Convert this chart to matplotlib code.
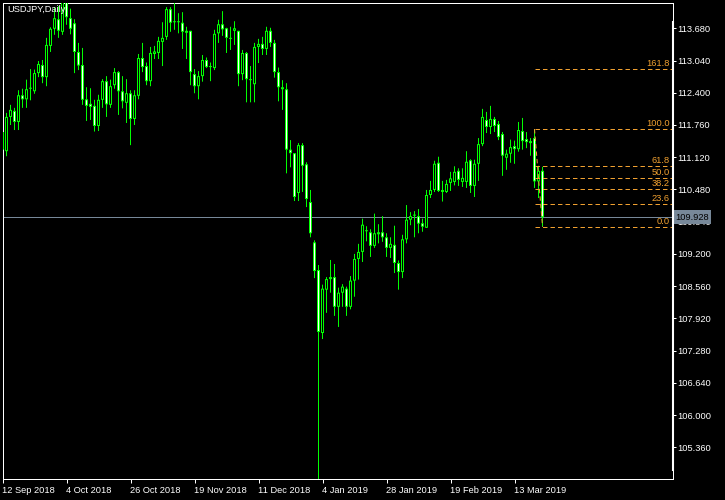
import matplotlib
matplotlib.use('Agg')
import matplotlib.pyplot as plt
import matplotlib.transforms as mtransforms
from matplotlib.lines import Line2D
import numpy as np

plt.rcParams['font.family'] = ['Liberation Sans', 'DejaVu Sans']
plt.rcParams['lines.scale_dashes'] = False

# USDJPY daily bars, 12 Sep 2018 .. 22 Mar 2019
opens = [111.62, 111.24, 111.92, 112.04, 111.82, 112.35, 112.27, 112.48, 112.43, 112.79,
         112.95, 112.71, 113.33, 113.67, 113.86, 113.61, 114.45, 113.88, 113.78, 113.21,
         112.95, 112.27, 112.18, 112.14, 111.74, 112.26, 112.63, 112.16, 112.55, 112.81,
         112.43, 112.20, 112.39, 111.88, 112.34, 113.09, 112.93, 112.63, 113.17, 113.19,
         113.41, 113.51, 114.06, 113.80, 113.82, 113.79, 113.63, 113.63, 112.77, 112.53,
         112.73, 113.05, 112.91, 112.89, 113.58, 113.76, 113.68, 113.47, 113.63, 113.63,
         112.77, 113.19, 112.67, 112.57, 113.31, 113.37, 113.27, 113.63, 113.39, 112.81,
         112.51, 112.47, 111.27, 111.20, 110.41, 111.36, 110.98, 110.23, 109.43, 108.88,
         107.63, 108.49, 108.70, 108.74, 108.15, 108.43, 108.51, 108.15, 108.67, 109.10,
         109.24, 109.65, 109.63, 109.36, 109.59, 109.63, 109.53, 109.32, 109.38, 109.02,
         108.84, 109.49, 109.88, 109.96, 109.95, 109.81, 109.72, 110.37, 110.47, 111.01,
         110.47, 110.43, 110.61, 110.63, 110.85, 110.63, 110.63, 111.06, 110.55, 110.99,
         111.38, 111.86, 111.72, 111.88, 111.78, 111.58, 111.11, 111.19, 111.34, 111.28,
         111.64, 111.48, 111.44, 111.50, 110.64, 110.85]
highs = [111.65, 112.00, 112.16, 112.10, 112.45, 112.48, 112.66, 112.87, 112.86, 113.03,
         113.05, 113.49, 113.70, 114.10, 114.12, 114.54, 114.55, 114.07, 113.86, 113.39,
         113.29, 112.51, 112.49, 112.26, 112.36, 112.67, 112.73, 112.66, 112.89, 112.83,
         112.73, 112.67, 112.45, 112.45, 113.17, 113.39, 113.00, 113.31, 113.33, 113.51,
         113.80, 114.10, 114.10, 114.18, 113.98, 114.00, 113.71, 113.63, 112.87, 112.83,
         113.15, 113.10, 113.00, 113.65, 113.85, 114.02, 113.69, 113.71, 113.82, 113.63,
         113.25, 113.21, 112.93, 113.39, 113.47, 113.51, 113.71, 113.69, 113.45, 112.90,
         112.65, 112.59, 111.46, 111.20, 111.40, 111.40, 111.02, 110.47, 109.47, 108.98,
         108.59, 108.74, 109.08, 109.00, 108.53, 108.60, 108.55, 108.76, 109.20, 109.40,
         109.90, 109.75, 109.69, 110.00, 109.79, 109.95, 109.61, 109.53, 109.76, 109.07,
         109.58, 110.17, 110.03, 110.05, 110.09, 109.90, 110.47, 110.65, 111.05, 111.13,
         110.65, 110.67, 110.83, 110.94, 110.90, 110.90, 111.24, 111.08, 111.07, 111.50,
         112.08, 112.02, 112.14, 111.92, 111.84, 111.62, 111.27, 111.47, 111.45, 111.82,
         111.90, 111.62, 111.50, 111.68, 110.95, 110.93]
lows = [111.04, 111.14, 111.76, 111.66, 111.66, 112.10, 112.10, 112.25, 112.38, 112.71,
        112.59, 112.53, 113.21, 113.55, 113.49, 113.55, 113.75, 113.56, 112.79, 112.85,
        112.16, 111.84, 111.86, 111.63, 111.64, 112.10, 111.92, 112.10, 112.48, 111.96,
        112.09, 111.80, 111.36, 111.76, 112.27, 112.81, 112.55, 112.53, 113.07, 113.07,
        112.93, 113.45, 113.61, 113.65, 113.58, 113.27, 113.07, 112.55, 112.39, 112.27,
        112.62, 112.89, 112.63, 112.85, 113.39, 113.53, 113.19, 113.25, 113.35, 112.53,
        112.65, 112.21, 112.21, 112.21, 112.99, 113.15, 113.15, 113.31, 112.70, 112.23,
        112.06, 110.80, 110.92, 110.25, 110.25, 110.43, 110.13, 109.53, 108.72, 104.60,
        107.51, 108.03, 108.43, 107.97, 107.75, 108.15, 107.97, 108.10, 108.35, 108.69,
        109.04, 109.45, 109.14, 109.32, 109.41, 109.44, 109.14, 109.12, 108.82, 108.49,
        108.72, 109.41, 109.77, 109.53, 109.61, 109.64, 109.72, 110.31, 110.43, 110.43,
        110.24, 110.41, 110.45, 110.56, 110.55, 110.53, 110.51, 110.41, 110.33, 110.65,
        111.34, 111.60, 111.58, 111.62, 111.46, 110.75, 110.87, 111.01, 110.99, 111.23,
        111.27, 111.30, 111.15, 110.51, 110.31, 109.74]
closes = [111.27, 111.92, 112.06, 111.82, 112.35, 112.27, 112.47, 112.50, 112.79, 112.97,
          112.71, 113.35, 113.67, 113.88, 113.63, 114.45, 113.90, 113.67, 113.21, 112.94,
          112.26, 112.14, 112.12, 111.74, 112.26, 112.63, 112.17, 112.53, 112.81, 112.43,
          112.23, 112.39, 111.88, 112.35, 113.09, 112.91, 112.63, 113.19, 113.22, 113.43,
          113.49, 114.06, 113.79, 113.82, 113.80, 113.61, 113.59, 112.81, 112.53, 112.73,
          113.05, 112.91, 112.93, 113.57, 113.76, 113.66, 113.49, 113.49, 113.68, 112.77,
          113.19, 112.67, 112.65, 113.31, 113.37, 113.27, 113.63, 113.39, 112.81, 112.51,
          112.47, 111.27, 111.20, 110.33, 111.36, 110.95, 110.29, 109.61, 108.86, 107.65,
          108.51, 108.70, 108.74, 108.15, 108.43, 108.55, 108.15, 108.67, 109.10, 109.24,
          109.78, 109.67, 109.36, 109.61, 109.63, 109.53, 109.32, 109.40, 109.02, 108.84,
          109.49, 109.88, 109.95, 109.98, 109.80, 109.74, 110.37, 110.47, 110.99, 110.45,
          110.43, 110.59, 110.70, 110.83, 110.67, 110.71, 111.03, 110.55, 110.99, 111.38,
          111.92, 111.72, 111.88, 111.74, 111.52, 111.15, 111.19, 111.32, 111.28, 111.66,
          111.44, 111.42, 111.40, 110.64, 110.85, 109.928]

date_pos = [0, 16, 32, 48, 64, 80, 96, 112, 128]
date_labels = ['12 Sep 2018', '4 Oct 2018', '26 Oct 2018', '19 Nov 2018', '11 Dec 2018',
               '4 Jan 2019', '28 Jan 2019', '19 Feb 2019', '13 Mar 2019']
price_ticks = [113.68, 113.04, 112.40, 111.76, 111.12, 110.48, 109.84,
               109.20, 108.56, 107.92, 107.28, 106.64, 106.00, 105.36]

fib_start = 133
fib_end = 135
fib_high = 111.68
fib_low = 109.74
fib_levels = [0.0, 23.6, 38.2, 50.0, 61.8, 100.0, 161.8]
bid = 109.928

GREEN = '#00ff00'
ORANGE = '#f0a030'
BIDCOL = '#778899'
FS = 6.7
LW1 = 0.72   # one pixel at 100 dpi

W, H = 725, 500
fig = plt.figure(figsize=(W / 100, H / 100), dpi=100, facecolor='black')
ax = fig.add_axes([2.5 / W, (H - 479.3) / H, 670 / W, 476.6 / H])
ax.set_facecolor('black')

ymin, ymax = 104.725, 114.188
px = (ymax - ymin) / 476.6      # one pixel in price units

x = np.arange(len(opens))
o = np.array(opens)
c = np.array(closes)
bull = c >= o
top = np.maximum(o, c)
bot = np.minimum(o, c)

# wicks, body outline (3 px) and inner fill (1 px); bars sit on pixel centres
ax.vlines(x, lows, highs, color=GREEN, lw=LW1, zorder=3, snap=False)
ax.bar(x, np.maximum(top - bot, px), bottom=bot, width=0.75, color=GREEN,
       lw=0, zorder=4, snap=False)
inner = np.maximum(top - bot - 2 * px, 0)
ax.bar(x, inner, bottom=bot + px, width=0.25,
       color=np.where(bull, 'black', 'white'), lw=0, zorder=5, snap=False)

ax.axhline(bid, color=BIDCOL, lw=LW1, zorder=2)

xmax = 167.5
rng = fib_high - fib_low
trans_lbl = mtransforms.offset_copy(
    mtransforms.blended_transform_factory(ax.transAxes, ax.transData),
    fig=fig, x=0, y=1.0, units='dots')
for lvl in fib_levels:
    p = fib_low + rng * lvl / 100
    ax.plot([fib_start, xmax], [p, p], color=ORANGE, lw=LW1,
            dashes=(3.2, 2.2), zorder=6)
    ax.text(0.9963, p, '%.1f' % lvl, color=ORANGE, fontsize=FS,
            ha='right', va='bottom', transform=trans_lbl, zorder=7)
ax.plot([fib_start, fib_end], [fib_high, fib_low], color=ORANGE, lw=LW1,
        dashes=(3.2, 2.2), zorder=6)

ax.set_xlim(0, xmax)
ax.set_ylim(ymin, ymax)

ax.yaxis.tick_right()
ax.set_yticks(price_ticks)
ax.set_yticklabels(['%.3f' % t for t in price_ticks])
ax.set_xticks(date_pos)
ax.set_xticklabels(date_labels, ha='left')
ax.tick_params(axis='y', colors='white', direction='out', length=2.5,
               width=LW1, pad=1.2, labelsize=FS)
ax.tick_params(axis='x', colors='white', direction='out', length=3,
               width=LW1, pad=1.5, labelsize=FS)
for sp in ax.spines.values():
    sp.set_color('white')
    sp.set_linewidth(LW1)

ax.text(1.0037, bid, '%.3f' % bid, color='black', fontsize=FS,
        ha='left', va='center',
        transform=mtransforms.blended_transform_factory(ax.transAxes, ax.transData),
        bbox=dict(boxstyle='square,pad=0.25', fc=BIDCOL, ec='none'),
        zorder=10, clip_on=False)

fig.add_artist(Line2D([672.7 / W] * 2, [1 - 22 / H, 1 - 470 / H], color='white',
                      lw=1.5, transform=fig.transFigure))
fig.text(7 / W, 1 - 10 / H, 'USDJPY,Daily', color='white', fontsize=FS,
         ha='left', va='center', zorder=10)

fig.savefig('out.png', dpi=100, facecolor='black')
